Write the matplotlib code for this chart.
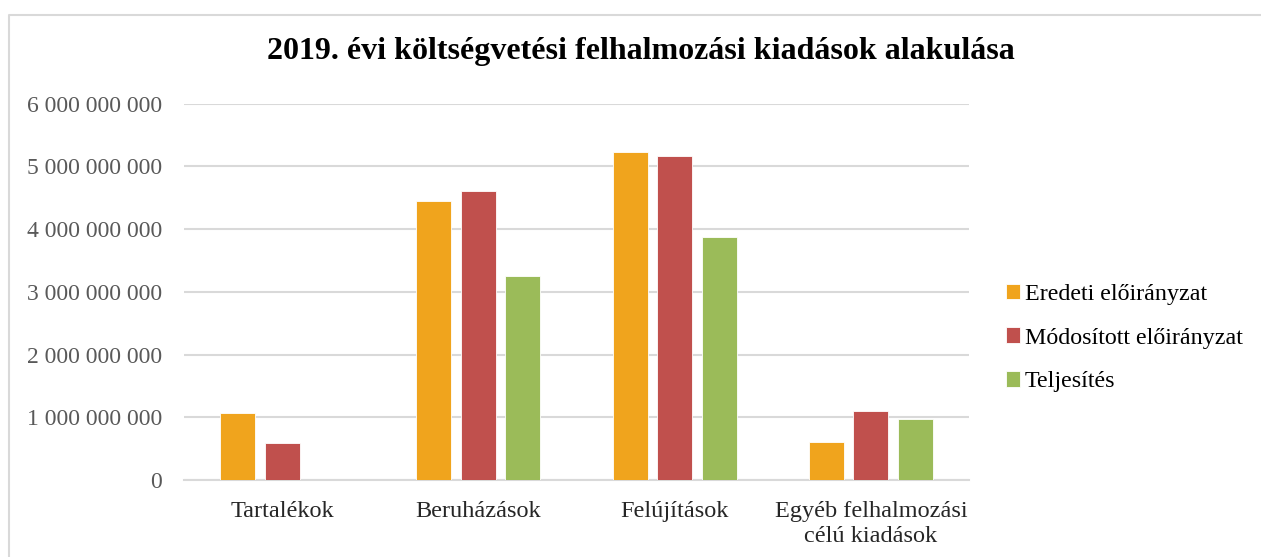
import numpy as np
import matplotlib
matplotlib.use("Agg")
import matplotlib.pyplot as plt
from matplotlib.ticker import FuncFormatter, MultipleLocator
from matplotlib.lines import Line2D

# %% data
categories = ["Tartalékok", "Beruházások", "Felújítások", "Egyéb felhalmozási\ncélú kiadások"]
series_names = ["Eredeti előirányzat", "Módosított előirányzat", "Teljesítés"]
eredeti = [1.075e9, 4.45e9, 5.23e9, 0.61e9]
modositott = [0.59e9, 4.61e9, 5.17e9, 1.10e9]
teljesites = [0, 3.26e9, 3.87e9, 0.975e9]
colors = ["#F0A41D", "#C0504D", "#9BBB59"]

plt.rcParams["font.family"] = ["Liberation Serif", "DejaVu Serif"]

# %% figure
fig = plt.figure(figsize=(12.61, 5.57), dpi=100)
ax = fig.add_axes([184 / 1261, 1 - 480 / 557, (969 - 184) / 1261, (480 - 103.7) / 557])

# light frame around the chart (only left and top edges are visible in the original)
fx, fy = 8.5 / 1261, 1 - 14.5 / 557
fig.lines.append(Line2D([fx, fx, 1.0], [0.0, fy, fy], transform=fig.transFigure,
                        color="#D9D9D9", linewidth=1.5))

x = np.arange(len(categories))
w = 0.178
off = 0.227
for i, (vals, name) in enumerate(zip([eredeti, modositott, teljesites], series_names)):
    ax.bar(x + (i - 1) * off, vals, width=w, color=colors[i], label=name,
           edgecolor="white", linewidth=0.6, zorder=3)

ax.set_xlim(-0.5, len(categories) - 0.5)
ax.set_ylim(0, 6e9)
ax.yaxis.set_major_locator(MultipleLocator(1e9))
ax.yaxis.set_major_formatter(FuncFormatter(lambda v, p: f"{v:,.0f}".replace(",", " ")))
ax.grid(axis="y", color="#D9D9D9", linewidth=1.5, zorder=0)
for s in ["top", "right", "left"]:
    ax.spines[s].set_visible(False)
ax.spines["bottom"].set_color("#D9D9D9")
ax.spines["bottom"].set_linewidth(1.5)
ax.tick_params(axis="both", length=0)
ax.tick_params(axis="y", labelsize=17, labelcolor="#595959", pad=16)
ax.tick_params(axis="x", labelsize=17.5, labelcolor="#262626", pad=15)
ax.set_xticks(x)
ax.set_xticklabels(categories, linespacing=1.25)

fig.text(641 / 1261, 1 - 52 / 557, "2019. évi költségvetési felhalmozási kiadások alakulása",
         ha="center", va="center", fontsize=23, fontweight="bold", color="black")

leg = fig.legend(loc="center left", bbox_to_anchor=(984 / 1261, 1 - 338 / 557),
                 frameon=False, fontsize=17.3, handlelength=0.6, handleheight=0.6,
                 handletextpad=0.2, labelspacing=0.95)

fig.savefig("out.png", dpi=100)
